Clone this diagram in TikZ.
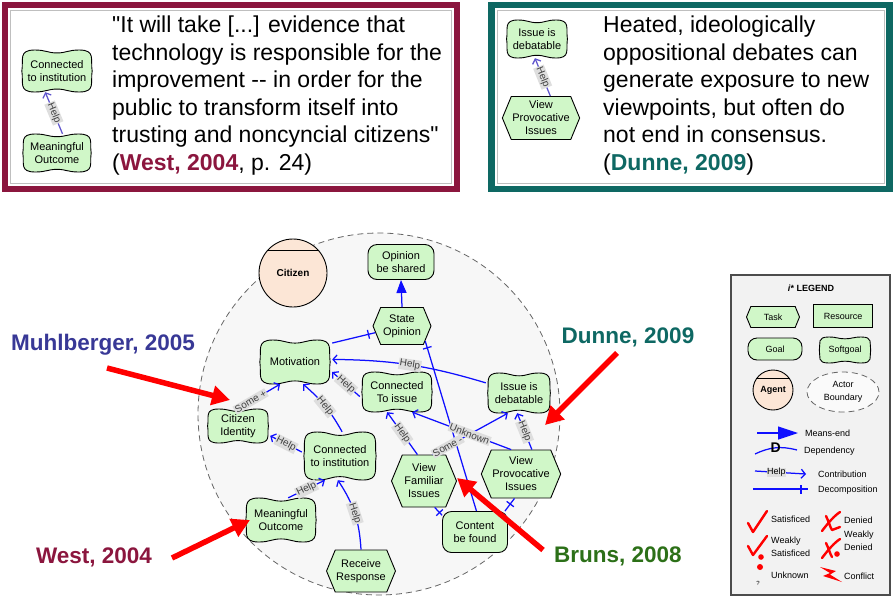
\documentclass[tikz,border=0pt]{standalone}
\usepackage{fontspec}
\setmainfont{Liberation Sans}[Ligatures=TeXOff]
\usepackage{tikz}
\usetikzlibrary{arrows.meta,positioning,shapes.symbols,shapes.geometric,decorations.markings}

\definecolor{maroonbox}{RGB}{139,22,62}
\definecolor{tealbox}{RGB}{14,104,99}
\definecolor{muhlblue}{RGB}{56,56,150}
\definecolor{brunsgreen}{RGB}{44,112,24}
\definecolor{nodefill}{RGB}{208,247,200}
\definecolor{agentfill}{RGB}{252,230,214}
\definecolor{linkblue}{RGB}{15,15,255}
\definecolor{insetblue}{RGB}{95,85,205}
\definecolor{boundfill}{RGB}{247,247,247}
\definecolor{legendfill}{RGB}{242,242,242}

\newcommand{\nodefont}{\fontsize{11}{13}\selectfont}
\newcommand{\legfont}{\fontsize{9}{12.5}\selectfont}
\newcommand{\quotefont}{\fontsize{23}{27.5}\selectfont}
\newcommand{\citefont}{\bfseries\fontsize{22.5}{26}\selectfont}

\tikzset{
  shape line/.style={draw=black, line width=0.9pt, fill=nodefill},
  sgtext/.style={align=center, inner sep=0pt, font=\nodefont},
  task/.style={shape line, shape=signal, signal to=east and west, signal pointer angle=135,
    align=center, inner sep=1pt, font=\nodefont},
  goal/.style={shape line, rounded corners=9pt, align=center, inner sep=1pt, font=\nodefont},
  resource/.style={shape line, align=center, font=\legfont},
  agent/.style={draw=black, line width=0.9pt, fill=agentfill, circle, inner sep=0pt,
    font=\bfseries\fontsize{10}{12}\selectfont},
  boundary/.style={draw=black!60, fill=boundfill, dash pattern=on 6pt off 4pt, line width=0.8pt},
  link/.style={draw=linkblue, line width=1.25pt},
  meansend/.style={link, -{Triangle[length=13pt,width=10pt]}},
  contrib/.style={link, -{Straight Barb[length=4pt,width=9pt]}},
  decomp/.style={link, postaction={decorate}, decoration={markings,
    mark=at position -7pt with {\draw[linkblue, line width=1.25pt] (0,-4.5pt) -- (0,4.5pt);}}},
  linklabel/.style={fill=black!13, text=black!75, inner sep=1pt, font=\fontsize{10}{11}\selectfont, sloped},
  redarrow/.style={draw=red, line width=5.5pt, -{Triangle[length=18pt,width=19pt]}},
  quote/.style={align=left, inner sep=0pt, font=\quotefont, anchor=north west},
  citelabel/.style={font=\citefont, inner sep=0pt},
  legtext/.style={font=\legfont, anchor=west, inner sep=0pt, align=left},
  evalmark/.style={draw=red, line width=2.4pt, line cap=round, line join=round}
}

% softgoal: [node options]{name}{center}{half width}{half height}{text}
\newcommand{\softgoal}[6][]{%
  \begin{scope}[shift={#3}, xscale=#4, yscale=#5]
    \draw[shape line] (-0.95,0) .. controls (-0.9,0.55) and (-1.05,1) .. (-0.6,1)
      .. controls (-0.3,1) and (-0.25,0.86) .. (0,0.86)
      .. controls (0.25,0.86) and (0.3,1) .. (0.6,1)
      .. controls (1.05,1) and (0.9,0.55) .. (0.95,0)
      .. controls (0.9,-0.55) and (1.05,-1) .. (0.6,-1)
      .. controls (0.3,-1) and (0.25,-0.86) .. (0,-0.86)
      .. controls (-0.25,-0.86) and (-0.3,-1) .. (-0.6,-1)
      .. controls (-1.05,-1) and (-0.9,-0.55) .. cycle;
  \end{scope}
  \node[sgtext, minimum width={2*#4}, minimum height={2*#5}, #1] (#2) at #3 {#6};
}

\begin{document}
\begin{tikzpicture}[x=1pt, y=-1pt]
  \useasboundingbox (0,0) rectangle (893,598);

  % Quote boxes
  \draw[maroonbox, line width=6.5pt] (5,5) rectangle (457,189);
  \draw[black!25, line width=0.6pt] (10.5,10.5) rectangle (451.5,183.5);
  \draw[tealbox, line width=6.5pt] (491.5,5) rectangle (889.5,189);
  \draw[black!25, line width=0.6pt] (497,10.5) rectangle (884,183.5);

  % West inset
  \softgoal{westinst}{(57,71)}{37}{21}{Connected\\to institution}
  \softgoal{westout}{(57,153)}{36}{19}{Meaningful\\Outcome}
  \draw[contrib, draw=insetblue] (westout.74) -- node[linklabel]{Help} (westinst.241);
  \node[quote] (westquote) at (112,16) {"It will take [...] evidence that\\technology is responsible for the\\improvement -- in order for the\\public to transform itself into\\trusting and noncyncial citizens"\\(\textcolor{maroonbox}{\textbf{West, 2004}}, p. 24)};

  % Dunne inset
  \softgoal{dunissue}{(537,39)}{32}{19}{Issue is\\debatable}
  \node[task, minimum width=72, minimum height=43] (dunview) at (541,118) {View\\Provocative\\Issues};
  \draw[contrib, draw=insetblue] (dunview.67) -- node[linklabel]{Help} (dunissue.264);
  \node[quote] (dunquote) at (603,16) {Heated, ideologically\\oppositional debates can\\generate exposure to new\\viewpoints, but often do\\not end in consensus.\\(\textcolor{tealbox}{\textbf{Dunne, 2009}})};

  % Actor boundary
  \draw[boundary] (379,414) circle (181pt);
  \node[agent, minimum size=68] (citizen) at (293,273) {Citizen};
  \draw[line width=0.9pt] (citizen.140) -- (citizen.40);

  % Intentional elements
  \node[goal, minimum width=66, minimum height=35] (opinion) at (401,262) {Opinion\\be shared};
  \node[task, minimum width=58, minimum height=37] (stateop) at (402,326) {State\\Opinion};
  \softgoal{motiv}{(295,362)}{37}{22}{Motivation}
  \softgoal{conissue}{(397,392)}{37}{20}{Connected\\To issue}
  \softgoal{issuedeb}{(519,393)}{33}{20}{Issue is\\debatable}
  \softgoal{citid}{(238,426)}{32}{17}{Citizen\\Identity}
  \softgoal{coninst}{(340,456)}{38}{24}{Connected\\to institution}
  \softgoal{meaning}{(281,520)}{37}{22}{Meaningful\\Outcome}
  \node[task, minimum width=62, minimum height=42] (receive) at (361,571) {Receive\\Response};
  \node[task, minimum width=65, minimum height=52] (vfam) at (424,481) {View\\Familiar\\Issues};
  \node[task, minimum width=73, minimum height=48] (vprov) at (521,474) {View\\Provocative\\Issues};
  \node[goal, minimum width=65, minimum height=41] (content) at (475,532) {Content\\be found};

  % Links
  \draw[meansend] (stateop.north) -- (opinion.south);
  \draw[decomp] (motiv.27) -- (stateop.194);
  \draw[decomp] (content.86) -- (stateop.327);
  \draw[decomp] (content.153) -- (vfam.292);
  \draw[decomp] (content.35) -- (vprov.255);
  \draw[contrib] (issuedeb.163) to[bend right=8] node[linklabel]{Help} (motiv.4);
  \draw[contrib] (conissue.187) -- node[linklabel]{Help} (motiv.345);
  \draw[contrib] (coninst.85) to[bend right=10] node[linklabel]{Help} (motiv.290);
  \draw[contrib] (citid.north) -- node[linklabel, pos=0.3]{Some +} (motiv.236);
  \draw[contrib] (coninst.174) -- node[linklabel]{Help} (citid.343);
  \draw[contrib] (meaning.72) -- node[linklabel]{Help} (coninst.238);
  \draw[contrib] (receive.north) to[bend right=15] node[linklabel]{Help} (coninst.265);
  \draw[contrib] (vfam.104) -- node[linklabel]{Help} (conissue.244);
  \draw[contrib] (vfam.72) -- node[linklabel, pos=0.2]{Some -} (issuedeb.241);
  \draw[contrib] (vprov.112) -- node[linklabel, pos=0.42]{Unknown} (conissue.307);
  \draw[contrib] (vprov.66) -- node[linklabel]{Help} (issuedeb.265);

  % Citations and pointers
  \node[citelabel, text=muhlblue] (muhl) at (103,345) {Muhlberger, 2005};
  \node[citelabel, text=maroonbox] (west) at (94,557) {West, 2004};
  \node[citelabel, text=tealbox] (dunne) at (628,337) {Dunne, 2009};
  \node[citelabel, text=brunsgreen] (bruns) at (618,556) {Bruns, 2008};
  \coordinate (muhl-tail) at (107,368);
  \coordinate (muhl-tip) at (230,400);
  \coordinate (west-tail) at (172,558);
  \coordinate (west-tip) at (250,520);
  \coordinate (dunne-tail) at (617,353);
  \coordinate (dunne-tip) at (545,425);
  \coordinate (bruns-tail) at (543,550);
  \coordinate (bruns-tip) at (457,478);
  \draw[redarrow] (muhl-tail) -- (muhl-tip);
  \draw[redarrow] (west-tail) -- (west-tip);
  \draw[redarrow] (dunne-tail) -- (dunne-tip);
  \draw[redarrow] (bruns-tail) -- (bruns-tip);

  % Legend
  \draw[draw=black!70, line width=1.2pt, fill=legendfill] (731,275) rectangle (890,595);
  \node[font=\bfseries\fontsize{9}{10}\selectfont] (legtitle) at (811,288) {\textit{i}* LEGEND};
  \node[task, font=\legfont, minimum width=53, minimum height=21] (ltask) at (773,317) {Task};
  \node[resource, minimum width=59, minimum height=23] (lres) at (843,316) {Resource};
  \node[goal, font=\legfont, minimum width=54, minimum height=22] (lgoal) at (775,349) {Goal};
  \softgoal[font=\legfont]{lsoft}{(845,350)}{27}{13}{Softgoal}
  \node[agent, font=\bfseries\legfont, minimum size=40] (lagent) at (773,390) {Agent};
  \draw[line width=0.9pt] (lagent.145) -- (lagent.35);
  \node[boundary, fill=white!60!legendfill, ellipse, minimum width=72, minimum height=40,
    font=\legfont, align=center, inner sep=0pt] (lbound) at (843,392) {Actor\\Boundary};

  \coordinate (me-a) at (757,433);
  \coordinate (me-b) at (798,433);
  \draw[link, -{Triangle[length=20pt,width=13pt]}] (me-a) -- (me-b);
  \node[legtext] (me-txt) at (805,433) {Means-end};
  \coordinate (dep-a) at (755,454);
  \coordinate (dep-b) at (797,450);
  \draw[link] (dep-a) to[bend left=20] node[font=\bfseries\fontsize{14}{14}\selectfont, inner sep=0pt]{D} (dep-b);
  \node[legtext] (dep-txt) at (804,451) {Dependency};
  \coordinate (con-a) at (755,471);
  \coordinate (con-b) at (806,474);
  \draw[contrib] (con-a) -- node[pos=0.42, fill=black!12, inner sep=0.5pt, font=\legfont]{Help} (con-b);
  \node[legtext] (con-txt) at (818,474) {Contribution};
  \coordinate (dec-a) at (753,489);
  \coordinate (dec-b) at (808,489);
  \draw[decomp] (dec-a) -- (dec-b);
  \node[legtext] (dec-txt) at (818,490) {Decomposition};

  % Evaluation labels
  \draw[evalmark] (748,523) -- (753,532) -- (767,511);
  \node[legtext] (sat-txt) at (771,519) {Satisficed};
  \draw[evalmark] (822,531) .. controls (828,523) and (834,516) .. (840,512);
  \draw[evalmark] (826,516) .. controls (829,522) and (830,527) .. (832,530) -- (840,527);
  \node[legtext] (den-txt) at (844,520) {Denied};
  \draw[evalmark] (748,546) -- (753,555) -- (767,536);
  \fill[red] (761,557) circle (2.8pt);
  \node[legtext] (wsat-txt) at (771,547) {Weakly\\Satisficed};
  \draw[evalmark] (822,558) .. controls (828,550) and (834,543) .. (840,539);
  \draw[evalmark] (826,543) .. controls (829,549) and (830,554) .. (832,557);
  \fill[red] (837,554) circle (2.8pt);
  \node[legtext] (wden-txt) at (844,541) {Weakly\\Denied};
  \fill[red] (760,567) circle (3pt);
  \node[font=\fontsize{6}{6}\selectfont, inner sep=0pt] (unk-q) at (758,583) {?};
  \node[legtext] (unk-txt) at (771,575) {Unknown};
  \fill[red] (820,567) -- (836,571) -- (830,574.5) -- (842,582) -- (823,576) -- (830,573) -- cycle;
  \node[legtext] (conf-txt) at (844,576) {Conflict};
\end{tikzpicture}
\end{document}
